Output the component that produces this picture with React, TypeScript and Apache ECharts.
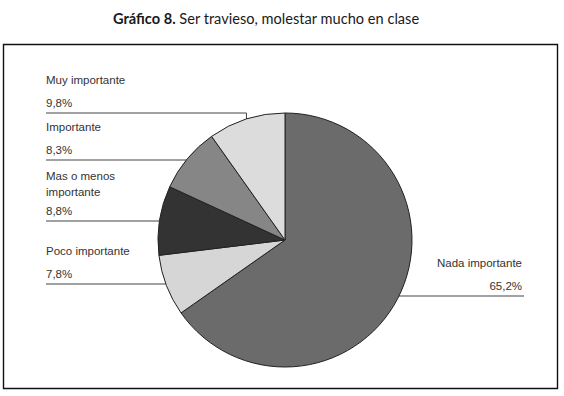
import React, { useEffect, useRef } from 'react';
import * as echarts from 'echarts';

const categories = ['Nada importante', 'Poco importante', 'Mas o menos\nimportante', 'Importante', 'Muy importante'];
const values = [65.2, 7.8, 8.8, 8.3, 9.8];
const pctLabels = ['65,2%', '7,8%', '8,8%', '8,3%', '9,8%'];
const sliceColors = ['#6b6b6b', '#d6d6d6', '#333333', '#868686', '#dcdcdc'];
const titleBold = 'Gráfico 8.';
const titleRest = 'Ser travieso, molestar mucho en clase';

const CX = 285;
const CY = 240;
const R = 127;
const labelLineY = [296, 284, 221, 160, 113];
const LEFT_X = 46;
const RIGHT_X = 522;
const LABEL_FONT = 'Liberation Sans, Arial, sans-serif';
const TITLE_FONT = 'Lato, sans-serif';

export default function App() {
  const ref = useRef<HTMLDivElement>(null);
  useEffect(() => {
    if (!ref.current) return;
    const chart = echarts.init(ref.current, null, { renderer: 'svg' });
    const lbl = { fontFamily: LABEL_FONT, fontSize: 11.5, color: '#333' };
    const option: any = {
      animation: false,
      backgroundColor: '#ffffff',
      title: {
        text: `{b|${titleBold}} ${titleRest}`,
        left: 108,
        top: 6,
        textStyle: {
          fontFamily: TITLE_FONT,
          fontSize: 14.6,
          fontWeight: 'normal',
          color: '#1a1a1a',
          rich: {
            b: { fontFamily: TITLE_FONT, fontSize: 14.6, fontWeight: 'bold', color: '#1a1a1a' },
          },
        },
      },
      graphic: [
        {
          type: 'rect',
          shape: { x: 3.5, y: 44.5, width: 554, height: 344 },
          style: { fill: 'none', stroke: '#111', lineWidth: 1.4 },
          silent: true,
        },
      ],
      series: [
        {
          type: 'pie',
          center: [CX, CY],
          radius: R,
          startAngle: 90,
          clockwise: true,
          avoidLabelOverlap: false,
          emphasis: { disabled: true },
          itemStyle: { borderColor: '#222', borderWidth: 1 },
          data: categories.map((name, i) => ({
            name,
            value: values[i],
            itemStyle: { color: sliceColors[i] },
          })),
          label: {
            show: true,
            ...lbl,
            formatter: (p: any) => {
              const lines = categories[p.dataIndex].split('\n');
              const multi = lines.length > 1;
              const parts = lines.map((l, k) =>
                k < lines.length - 1 ? `{a|${l}}` : multi ? `{c|${l}}` : `{b|${l}}`
              );
              return parts.join('\n') + `\n{p|${pctLabels[p.dataIndex]}}`;
            },
            rich: {
              a: { lineHeight: 10, ...lbl },
              b: { lineHeight: 30, ...lbl },
              c: { lineHeight: 22, ...lbl },
              p: { lineHeight: 16, ...lbl },
            },
          },
          labelLine: {
            show: true,
            length: 5,
            length2: 5,
            lineStyle: { color: '#444', width: 1 },
          },
          labelLayout: (params: any) => {
            const i = params.dataIndex;
            const y = labelLineY[i];
            const right = i === 0;
            const dy = y - CY;
            let pts: number[][];
            if (Math.abs(dy) < R - 4) {
              const dx = Math.sqrt(R * R - dy * dy);
              const ex = right ? CX + dx : CX - dx;
              pts = [[ex, y], [right ? RIGHT_X + 2 : LEFT_X, y]];
            } else {
              const p0 = params.labelLinePoints ? params.labelLinePoints[0] : [CX, CY - R];
              pts = [[p0[0], p0[1]], [p0[0], y], [LEFT_X, y]];
            }
            return {
              x: right ? RIGHT_X : LEFT_X,
              y: y - 2,
              align: right ? 'right' : 'left',
              verticalAlign: 'bottom',
              labelLinePoints: pts,
            };
          },
        },
      ],
    };
    chart.setOption(option);
    return () => chart.dispose();
  }, []);
  return (
    <div
      ref={ref}
      style={{ position: 'fixed', left: 0, top: 0, width: 564, height: 396 }}
    />
  );
}
